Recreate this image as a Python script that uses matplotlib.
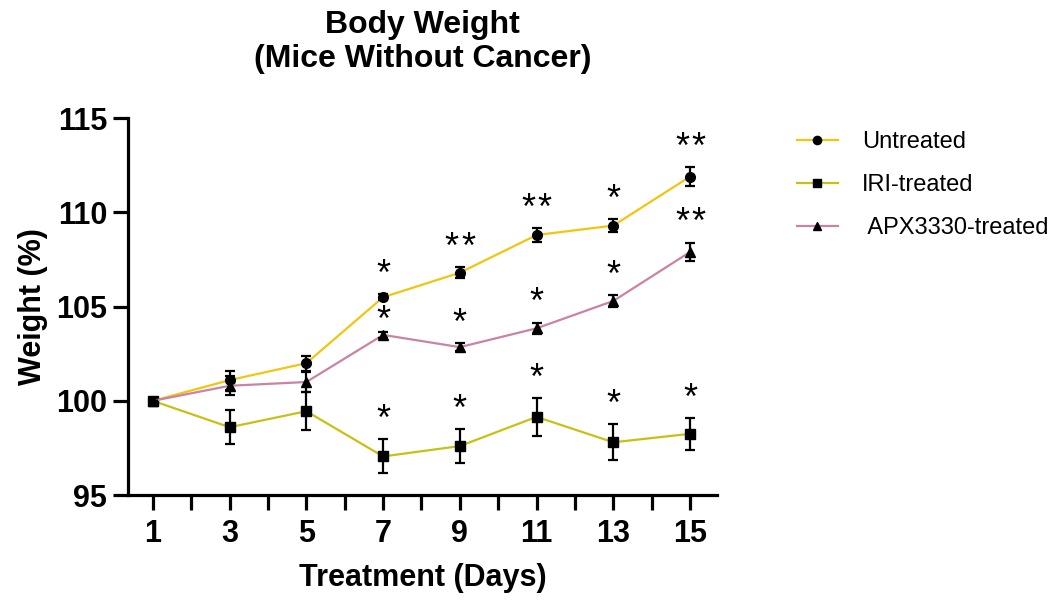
import matplotlib
matplotlib.use('Agg')
import matplotlib.pyplot as plt

plt.rcParams['font.family'] = ['Liberation Sans', 'DejaVu Sans']

days = [1, 3, 5, 7, 9, 11, 13, 15]

untreated = [100.0, 101.1, 102.0, 105.5, 106.8, 108.8, 109.3, 111.9]
untreated_err = [0.0, 0.5, 0.4, 0.15, 0.3, 0.35, 0.35, 0.5]
untreated_sig = ['', '', '', '*', '**', '**', '*', '**']

iri = [100.0, 98.6, 99.45, 97.05, 97.6, 99.15, 97.8, 98.25]
iri_err = [0.0, 0.9, 1.0, 0.9, 0.9, 1.0, 0.95, 0.85]
iri_sig = ['', '', '', '*', '*', '*', '*', '*']

apx = [100.0, 100.8, 101.0, 103.5, 102.85, 103.85, 105.3, 107.9]
apx_err = [0.0, 0.5, 0.55, 0.15, 0.2, 0.3, 0.3, 0.5]
apx_sig = ['', '', '', '*', '*', '*', '*', '**']

series = [
    ('Untreated', untreated, untreated_err, untreated_sig, '#F2C511', 'o', 7),
    ('IRI-treated', iri, iri_err, iri_sig, '#C9C014', 's', 7),
    (' APX3330-treated', apx, apx_err, apx_sig, '#C983A4', '^', 7),
]

fig = plt.figure(figsize=(10.54, 6.03), dpi=100)
ax = fig.add_axes([0.1214, 0.179, 0.5588, 0.625])

for name, vals, errs, sig, color, marker, ms in series:
    ax.plot(days, vals, color=color, lw=1.6, marker=marker, ms=ms,
            mfc='black', mec='black', label=name, zorder=2)
    ax.errorbar(days, vals, yerr=errs, fmt='none', ecolor='black',
                elinewidth=1.6, capsize=3.6, capthick=1.6, zorder=3)
    for i, s in enumerate(sig):
        if not s:
            continue
        off = 0.55 if (name.strip().startswith('APX') and days[i] == 7) else 1.0
        n = len(s)
        # spread multiple stars a little apart, like the original figure
        shifts = [0.0] if n == 1 else [-0.21, 0.21]
        for dx in shifts:
            ax.text(days[i] + dx, vals[i] + errs[i] + off, '*', ha='center',
                    va='center', fontsize=26, zorder=4)

ax.set_xlim(0.35, 15.7)
ax.set_ylim(95, 115)
ax.set_xticks(days)
ax.set_xticks(range(2, 15, 2), minor=True)
ax.set_yticks([95, 100, 105, 110, 115])

for sp in ['top', 'right']:
    ax.spines[sp].set_visible(False)
for sp in ['left', 'bottom']:
    ax.spines[sp].set_linewidth(2.3)

ax.tick_params(axis='both', which='both', length=11, width=2.3)
ax.tick_params(axis='x', pad=6)
ax.tick_params(axis='y', pad=4)
for lab in ax.get_xticklabels() + ax.get_yticklabels():
    lab.set_fontsize(22)
    lab.set_fontweight('bold')

ax.set_xlabel('Treatment (Days)', fontsize=22, fontweight='bold', labelpad=10)
ax.set_ylabel('Weight (%)', fontsize=22, fontweight='bold', labelpad=6)
ax.set_title('Body Weight\n(Mice Without Cancer)', fontsize=23,
             fontweight='bold', pad=37, linespacing=1.15)

ax.legend(loc='upper left', bbox_to_anchor=(0.756, 0.783),
          bbox_transform=fig.transFigure, frameon=False, fontsize=17,
          handlelength=1.75, handletextpad=1.0, labelspacing=0.9,
          borderpad=0, borderaxespad=0, markerscale=0.85)

fig.savefig('out.png', dpi=100)
